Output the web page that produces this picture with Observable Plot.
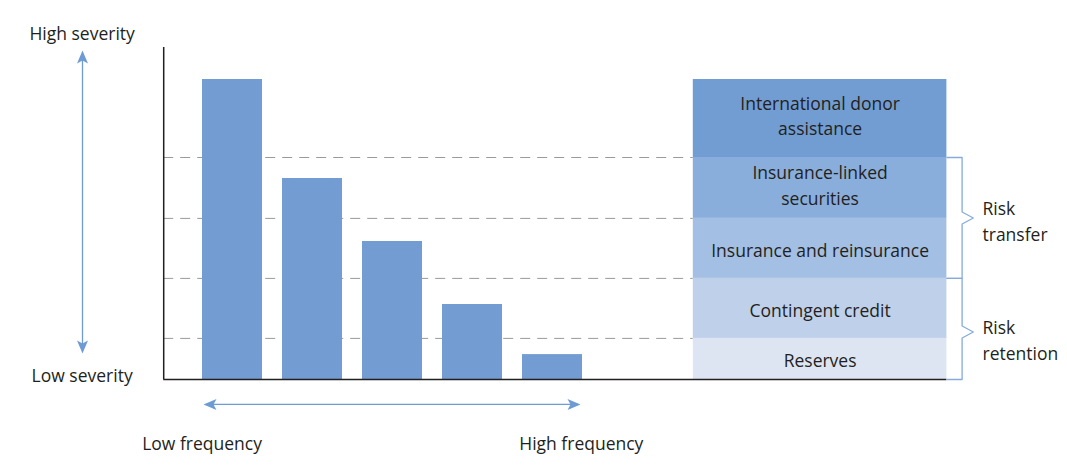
<!DOCTYPE html>
<html><head><meta charset="utf-8">
<script src="https://cdn.jsdelivr.net/npm/d3@7"></script>
<script src="https://cdn.jsdelivr.net/npm/@observablehq/plot@0.6"></script>
<style>
body{margin:0;background:#fff;}
#chart svg{display:block;background:linear-gradient(#f0ede8,#f0ede8) 9px 9px / calc(100% - 9px) calc(100% - 9px) no-repeat,#fff;}
</style>
</head><body><div id="chart"></div>
<script>
// ---- data ----
const frequencyRank = [1, 2, 3, 4, 5];
const severity = [100, 67, 46, 25, 8.3];
const layerNames = ["Reserves", "Contingent credit", "Insurance and reinsurance", "Insurance-linked\nsecurities", "International donor\nassistance"];
const layerBottoms = [0, 13.7, 33.7, 53.7, 74];
const layerTops = [13.7, 33.7, 53.7, 74, 100];
const layerColors = ["#dde5f3", "#bfd0ea", "#a3bfe3", "#8aaedb", "#729dd2"];
const groupNames = ["Risk\nretention", "Risk\ntransfer"];
const groupBottoms = [0, 33.7];
const groupTops = [33.7, 74];
const severityLabels = ["High severity", "Low severity"];
const frequencyLabels = ["Low frequency", "High frequency"];

// ---- layout ----
const FONT = "Open Sans";
const FS = 17.5;
const TXT = "#231f20";
const BLUE = "#6f9bd4";
const axisX = 0.14, boxX1 = 6.76, boxX2 = 9.93, brX = 10.12, brTip = 10.26;
const yArrowX = -0.875, yArrowTop = 109.7, yArrowBot = 8.7;
const xArrowY = -8.3, xArrowL = 0.6375, xArrowR = 5.35;

const bars = frequencyRank.map((r, i) => ({r, v: severity[i]}));
const layers = layerNames.map((n, i) => ({name: n, y1: layerBottoms[i], y2: layerTops[i], color: layerColors[i], multi: n.includes("\n")}));
const groups = groupNames.map((n, i) => ({name: n, y1: groupBottoms[i], y2: groupTops[i], m: (groupBottoms[i] + groupTops[i]) / 2 + (i === 0 ? -1 : 0)}));
const bracketPts = groups.flatMap((g, i) => [
  [boxX2, g.y2], [brX, g.y2], [brX, g.m + 2], [brTip, g.m], [brX, g.m - 2], [brX, g.y1], [boxX2, g.y1]
].map(([x, y]) => ({x, y, g: i})));

function head(rot) {
  const pts = [[0, 0], [5.5, 13], [0, 10], [-5.5, 13]];
  const a = rot * Math.PI / 180, c = Math.cos(a), s = Math.sin(a);
  const p = pts.map(([x, y]) => [x * c - y * s, x * s + y * c]);
  return {draw(ctx) { ctx.moveTo(...p[0]); for (let k = 1; k < p.length; k++) ctx.lineTo(...p[k]); ctx.closePath(); }};
}

const boxMid = (boxX1 + boxX2) / 2;
const chart = Plot.plot({
  width: 1067,
  height: 466,
  marginLeft: 0, marginRight: 0, marginTop: 0, marginBottom: 0,
  x: {domain: [0, 10], range: [152, 952], axis: null},
  y: {domain: [0, 100], range: [379, 79], axis: null},
  style: {fontFamily: FONT, fontSize: FS + "px", color: TXT, background: "transparent"},
  marks: [
    // dashed guide lines at layer boundaries
    Plot.ruleY(layerBottoms.slice(1), {x1: axisX, x2: boxX1, stroke: "#9a9a9a", strokeWidth: 1, strokeDasharray: "10,7"}),
    // bars
    Plot.rectY(bars, {x1: d => d.r - 0.375, x2: d => d.r + 0.375, y1: 0, y2: "v", fill: "#729cd2"}),
    // layered financing box
    Plot.rect(layers, {x1: boxX1, x2: boxX2, y1: "y1", y2: "y2", fill: "color"}),
    Plot.text(layers.filter(d => !d.multi), {x: boxMid, y: d => (d.y1 + d.y2) / 2, text: "name", dy: 2.5, fontSize: FS, fill: TXT}),
    Plot.text(layers.filter(d => d.multi), {x: boxMid, y: d => (d.y1 + d.y2) / 2, text: "name", dy: -4, fontSize: FS, lineHeight: 1.45, fill: TXT}),
    // axes
    Plot.ruleX([axisX], {y1: 0, y2: 110.7, stroke: TXT, strokeWidth: 1.5}),
    Plot.ruleY([0], {x1: axisX, x2: boxX2, stroke: TXT, strokeWidth: 1.5}),
    // brackets
    Plot.line(bracketPts, {x: "x", y: "y", z: "g", stroke: "#86abdb", strokeWidth: 1.3, curve: "linear"}),
    Plot.text(groups.slice(1), {x: 10.375, y: "m", text: "name", textAnchor: "start", dy: 2, fontSize: FS, lineHeight: 1.5, fill: TXT}),
    Plot.text(groups.slice(0, 1), {x: 10.375, y: "m", text: "name", textAnchor: "start", dy: 7, fontSize: FS, lineHeight: 1.5, fill: TXT}),
    // severity arrow
    Plot.ruleX([yArrowX], {y1: yArrowBot + 3, y2: yArrowTop - 3, stroke: BLUE, strokeWidth: 1.3}),
    Plot.dot([0], {x: yArrowX, y: yArrowTop, symbol: head(0), fill: BLUE, stroke: "none"}),
    Plot.dot([0], {x: yArrowX, y: yArrowBot, symbol: head(180), fill: BLUE, stroke: "none"}),
    // frequency arrow
    Plot.ruleY([xArrowY], {x1: xArrowL + 0.1, x2: xArrowR - 0.1, stroke: BLUE, strokeWidth: 1.3}),
    Plot.dot([0], {x: xArrowL, y: xArrowY, symbol: head(-90), fill: BLUE, stroke: "none"}),
    Plot.dot([0], {x: xArrowR, y: xArrowY, symbol: head(90), fill: BLUE, stroke: "none"}),
    // axis labels
    Plot.text(severityLabels, {x: -0.88, y: [115.3, 1.3], text: d => d, dy: 1, fontSize: FS, fill: TXT}),
    Plot.text(frequencyLabels, {x: [0.62, 5.36], y: -21.3, text: d => d, dy: 1, fontSize: FS, fill: TXT})
  ]
});
document.getElementById("chart").append(chart);
</script>
</body></html>
